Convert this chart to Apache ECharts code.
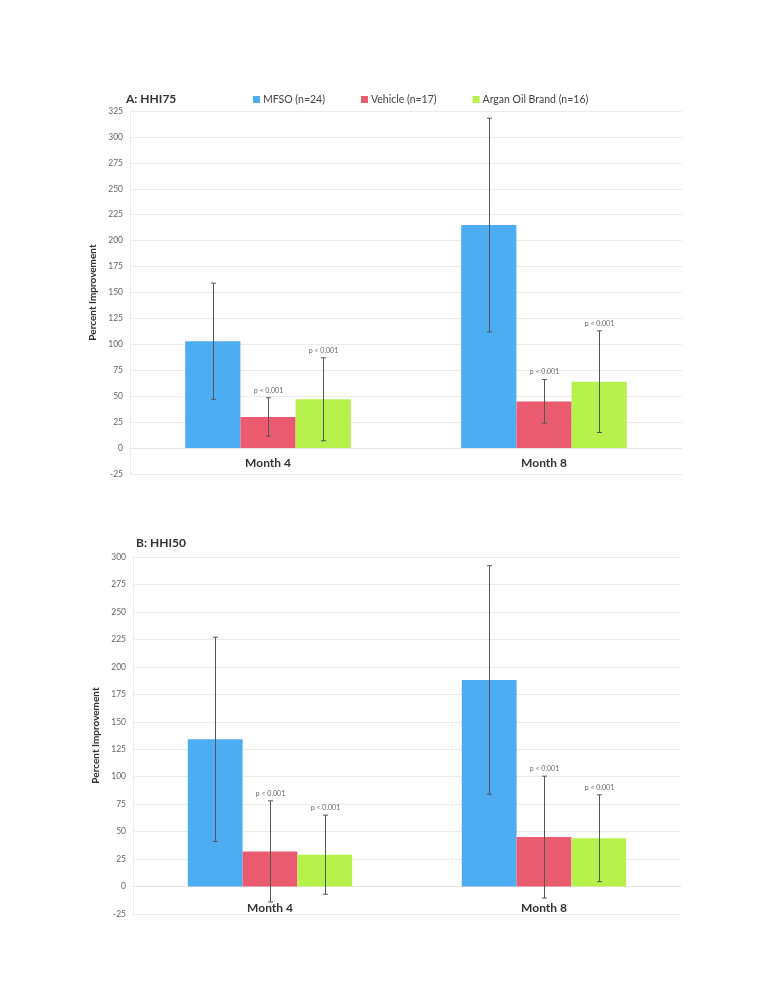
<!DOCTYPE html>
<html><head><meta charset="utf-8">
<script src="https://cdn.jsdelivr.net/npm/echarts@6/dist/echarts.min.js"></script>
<style>html,body{margin:0;padding:0;background:#fff}#c{width:777px;height:1008px}</style>
</head><body><div id="c"></div>
<script>
const categories = ['Month 4', 'Month 8'];
const seriesNames = ['MFSO (n=24)', 'Vehicle (n=17)', 'Argan Oil Brand (n=16)'];
const pLabels = ['', 'p < 0.001', 'p < 0.001'];

// Panel A: HHI75
const hhi75_MFSO = [103, 215];
const hhi75_Vehicle = [30, 45];
const hhi75_Argan = [47, 64];
const hhi75_MFSO_err = [56, 103];
const hhi75_Vehicle_err = [18.5, 21];
const hhi75_Argan_err = [40, 49];

// Panel B: HHI50
const hhi50_MFSO = [134, 188];
const hhi50_Vehicle = [32, 45];
const hhi50_Argan = [29, 44];
const hhi50_MFSO_err = [93, 104];
const hhi50_Vehicle_err = [46, 55.5];
const hhi50_Argan_err = [36, 39.5];

const colors = ['#4DADF3', '#EA5B6F', '#B7F24C'];
const font = 'Lato, "Open Sans", sans-serif';

const chart = echarts.init(document.getElementById('c'), null, {renderer: 'canvas'});

function barSeries(name, data, gi, ci) {
  return {
    name: name, type: 'bar', xAxisIndex: gi, yAxisIndex: gi, data: data,
    barGap: '0%', barCategoryGap: '40%',
    itemStyle: {color: colors[ci]}, emphasis: {disabled: true}, z: 2
  };
}
function errSeries(means, errs, gi, si) {
  return {
    type: 'custom', xAxisIndex: gi, yAxisIndex: gi, z: 5, silent: true,
    data: means.map((m, i) => [i, m, errs[i]]),
    renderItem: function (params, api) {
      const idx = api.value(0), m = api.value(1), e = api.value(2);
      const catW = api.size([1, 0])[0];
      const bw = catW * 0.6 / 3;
      const c = api.coord([idx, m]);
      const x = Math.round(c[0] + (si - 1) * bw) + 0.5;
      const top = api.coord([idx, m + e])[1];
      const bot = api.coord([idx, m - e])[1];
      const st = {stroke: '#555', lineWidth: 1};
      const ch = [
        {type: 'line', shape: {x1: x, y1: top, x2: x, y2: bot}, style: st},
        {type: 'line', shape: {x1: x - 2.5, y1: top, x2: x + 2.5, y2: top}, style: st},
        {type: 'line', shape: {x1: x - 2.5, y1: bot, x2: x + 2.5, y2: bot}, style: st}
      ];
      if (pLabels[si]) {
        ch.push({type: 'text', style: {text: pLabels[si], x: x, y: top - 4, align: 'center', verticalAlign: 'bottom',
          fill: '#666', font: '7px ' + font}});
      }
      return {type: 'group', children: ch};
    }
  };
}
function xAx(gi, margin) {
  return {
    type: 'category', gridIndex: gi, data: categories,
    axisLine: {onZero: true, lineStyle: {color: '#e6e6e6'}},
    axisTick: {show: false},
    axisLabel: {color: '#333', fontWeight: 'bold', fontSize: 12, fontFamily: font, margin: margin},
    splitLine: {show: false}
  };
}
function yAx(gi, max) {
  return {
    type: 'value', gridIndex: gi, min: -25, max: max, interval: 25,
    name: 'Percent Improvement', nameLocation: 'middle', nameGap: 28,
    nameTextStyle: {color: '#333', fontSize: 10, fontWeight: 'bold', fontFamily: font},
    axisLine: {show: true, lineStyle: {color: '#ececec'}},
    axisTick: {show: false},
    axisLabel: {color: '#666', fontSize: 8.5, fontFamily: font, margin: 7},
    splitLine: {lineStyle: {color: '#ececec'}}
  };
}

chart.setOption({
  backgroundColor: '#fff',
  animation: false,
  title: [
    {text: 'A: HHI75', left: 121, top: 88, textStyle: {fontSize: 12, fontWeight: 'bold', color: '#333', fontFamily: font}},
    {text: 'B: HHI50', left: 131, top: 532, textStyle: {fontSize: 12, fontWeight: 'bold', color: '#333', fontFamily: font}}
  ],
  legend: {
    data: seriesNames, left: 248, top: 89, itemWidth: 7, itemHeight: 7, itemGap: 36, icon: 'rect',
    textStyle: {color: '#444', fontSize: 10.5, fontFamily: font, padding: [0, 0, 0, -2]}
  },
  grid: [
    {left: 130, right: 95, top: 111, bottom: 534},
    {left: 133, right: 96, top: 557, bottom: 94}
  ],
  xAxis: [xAx(0, -17), xAx(1, -12)],
  yAxis: [yAx(0, 325), yAx(1, 300)],
  series: [
    barSeries(seriesNames[0], hhi75_MFSO, 0, 0),
    barSeries(seriesNames[1], hhi75_Vehicle, 0, 1),
    barSeries(seriesNames[2], hhi75_Argan, 0, 2),
    barSeries(seriesNames[0], hhi50_MFSO, 1, 0),
    barSeries(seriesNames[1], hhi50_Vehicle, 1, 1),
    barSeries(seriesNames[2], hhi50_Argan, 1, 2),
    errSeries(hhi75_MFSO, hhi75_MFSO_err, 0, 0),
    errSeries(hhi75_Vehicle, hhi75_Vehicle_err, 0, 1),
    errSeries(hhi75_Argan, hhi75_Argan_err, 0, 2),
    errSeries(hhi50_MFSO, hhi50_MFSO_err, 1, 0),
    errSeries(hhi50_Vehicle, hhi50_Vehicle_err, 1, 1),
    errSeries(hhi50_Argan, hhi50_Argan_err, 1, 2)
  ]
});
</script></body></html>
